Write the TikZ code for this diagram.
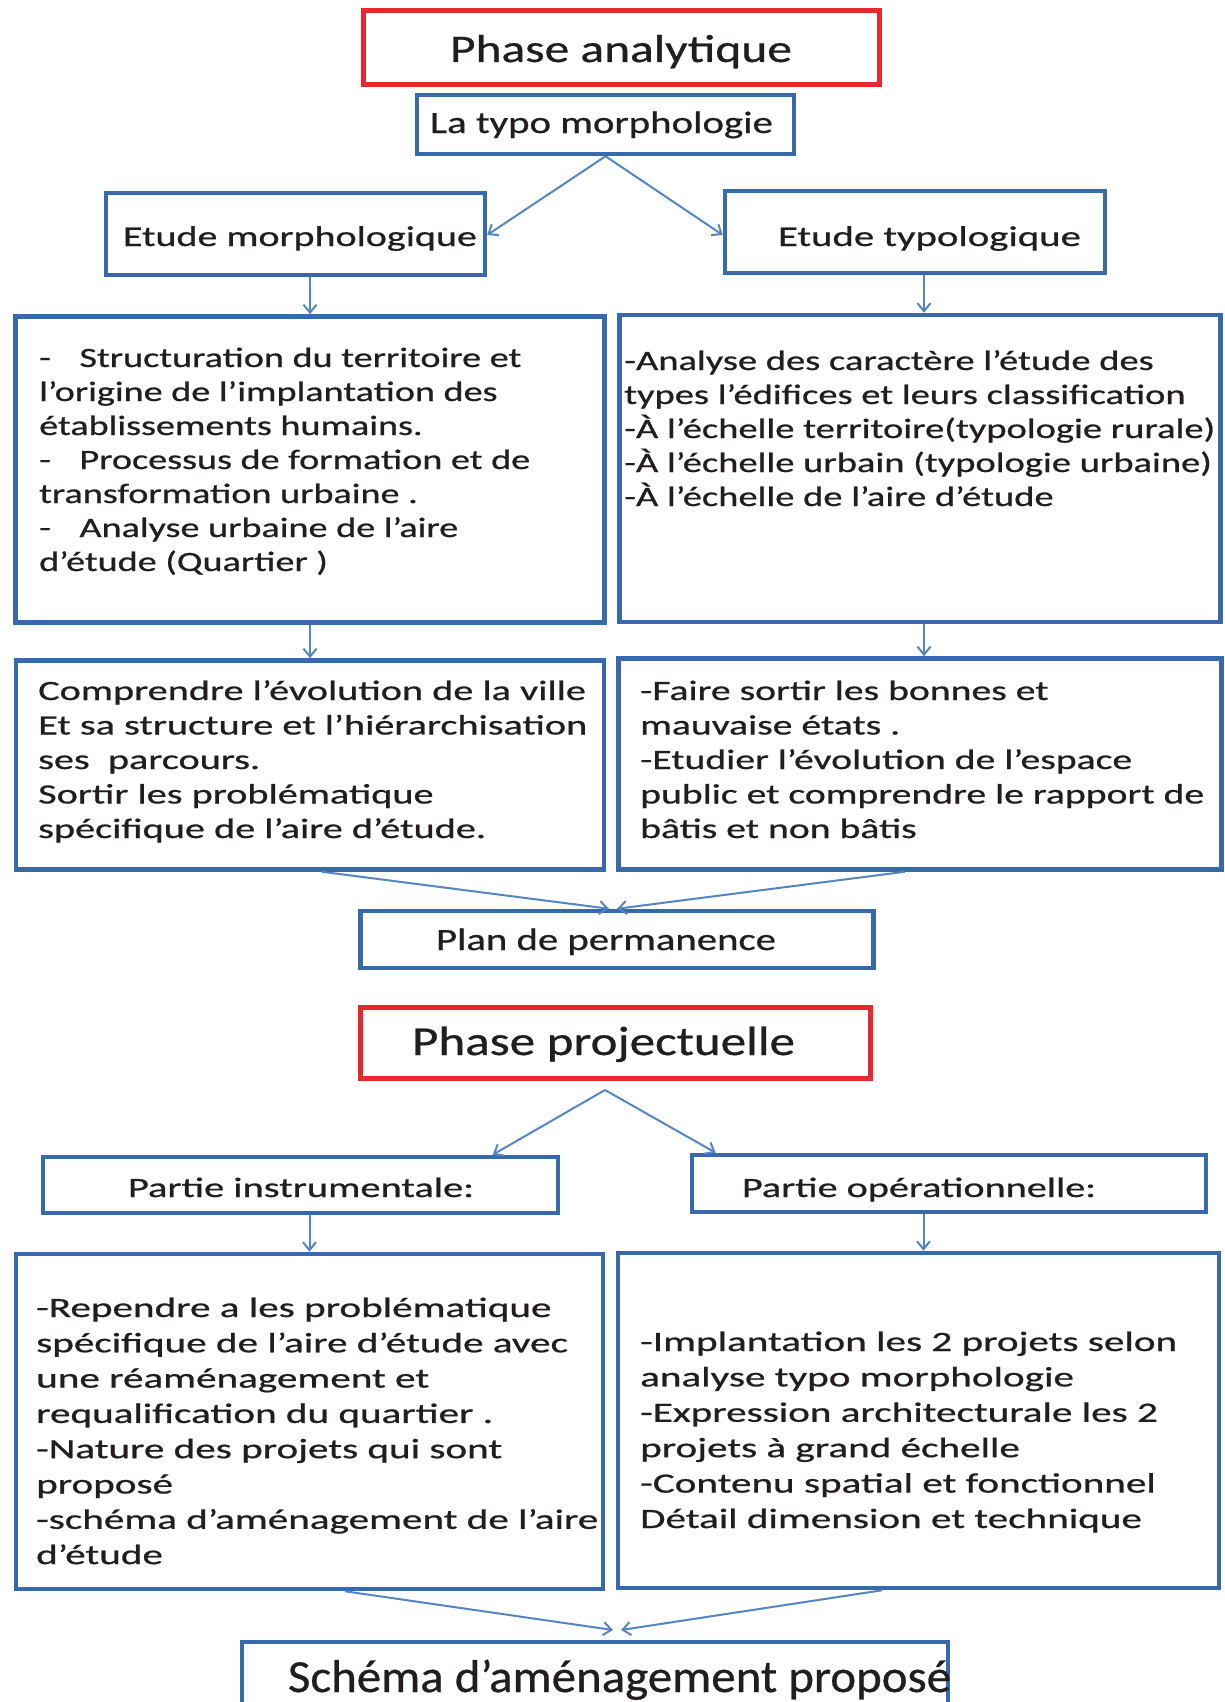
\documentclass[tikz,border=0pt]{standalone}
\usepackage{fontspec}
\setmainfont[FakeBold=0.6]{Carlito}
\usetikzlibrary{arrows.meta,calc}
\definecolor{boxblue}{RGB}{56,105,170}
\definecolor{arrblue}{RGB}{84,134,196}
\definecolor{boxred}{RGB}{232,40,44}
\definecolor{txt}{RGB}{34,30,30}
\newcommand\fitw[2]{\resizebox{#1pt}{\height}{#2}}
\newcommand\blk[3]{\resizebox{#1pt}{\height}{\fontsize{28}{#2}\selectfont\begin{tabular}[t]{@{}l@{}}#3\end{tabular}}}
\begin{document}
\begin{tikzpicture}[x=1pt,y=-1pt,
  bbox/.style={draw=boxblue, line width=4.5pt, inner sep=0pt},
  rbox/.style={draw=boxred, line width=5pt, inner sep=0pt},
  arr/.style={draw=arrblue, line width=2pt, -{Straight Barb[length=8pt,width=13pt,line width=2pt]}},
  lbl/.style={inner sep=0pt, anchor=base, text=txt},
  blkn/.style={inner sep=0pt, anchor=base west, text=txt}]
\path[use as bounding box] (0,0) rectangle (1224,1702);
\fill[white] (0,0) rectangle (1224,1702);
\clip (0,0) rectangle (1224,1702);

% boxes
\node[rbox, minimum width=516pt, minimum height=73pt] (pa) at (621,47.5) {};
\node[bbox, minimum width=377pt, minimum height=59pt] (typo) at (605.5,124.5) {};
\node[bbox, minimum width=379pt, minimum height=82pt] (morph) at (295.5,234) {};
\node[bbox, minimum width=380pt, minimum height=82pt] (typol) at (915,232) {};
\node[bbox, minimum width=589pt, minimum height=306pt] (L1) at (310,469.5) {};
\node[bbox, minimum width=601pt, minimum height=307pt] (R1) at (920,468.5) {};
\node[bbox, minimum width=588pt, minimum height=209pt] (L2) at (310,765) {};
\node[bbox, minimum width=603pt, minimum height=211pt] (R2) at (920,764) {};
\node[bbox, minimum width=513pt, minimum height=57pt] (plan) at (617,939.5) {};
\node[rbox, minimum width=510pt, minimum height=71pt] (pp) at (615.5,1042.5) {};
\node[bbox, minimum width=515pt, minimum height=56pt] (instr) at (300.5,1185) {};
\node[bbox, minimum width=514pt, minimum height=57pt] (oper) at (949,1183.5) {};
\node[bbox, minimum width=587pt, minimum height=335pt] (L3) at (309.5,1421.5) {};
\node[bbox, minimum width=601pt, minimum height=335pt] (R3) at (918.5,1420.5) {};
\node[bbox, minimum width=706pt, minimum height=90pt] (schema) at (595,1687) {};

% titles
\node[lbl] (tpa) at (621,62) {\fontsize{39}{47}\selectfont\fitw{342}{Phase analytique}};
\node[lbl] (ttypo) at (601.5,133) {\fontsize{31}{37}\selectfont\fitw{343}{La typo morphologie}};
\node[lbl] (tmorph) at (300,246) {\fontsize{28.5}{34}\selectfont\fitw{354}{Etude morphologique}};
\node[lbl] (ttypol) at (929.5,246) {\fontsize{28.5}{34}\selectfont\fitw{303}{Etude typologique}};
\node[lbl] (tplan) at (606,950) {\fontsize{31}{37}\selectfont\fitw{340}{Plan de permanence}};
\node[lbl] (tpp) at (603.5,1055) {\fontsize{41}{49}\selectfont\fitw{383}{Phase projectuelle}};
\node[lbl] (tinstr) at (301,1197) {\fontsize{28}{34}\selectfont\fitw{346}{Partie instrumentale:}};
\node[lbl] (toper) at (919,1197) {\fontsize{28}{34}\selectfont\fitw{354}{Partie opérationnelle:}};
\node[lbl] (tschema) at (619.5,1692) {\fontsize{46}{55}\selectfont\fitw{663}{Schéma d’aménagement proposé}};

% text blocks
\node[blkn] (t1) at (39,367) {\blk{491}{34}{-\hspace{0.75em}Structuration du territoire et\\ l’origine de l’implantation des\\ établissements humains.\\ -\hspace{0.75em}Processus de formation et de\\ transformation urbaine .\\ -\hspace{0.75em}Analyse urbaine de l’aire\\ d’étude (Quartier )}};
\node[blkn] (t2) at (624,370) {\blk{591}{34}{-Analyse des caractère l’étude des\\ types l’édifices et leurs classification\\ -À l’échelle territoire(typologie rurale)\\ -À l’échelle urbain (typologie urbaine)\\ -À l’échelle de l’aire d’étude}};
\node[blkn] (t3) at (38,700) {\blk{549}{34.5}{Comprendre l’évolution de la ville\\ Et sa structure et l’hiérarchisation\\ ses\ \ parcours.\\ Sortir les problématique\\ spécifique de l’aire d’étude.}};
\node[blkn] (t4) at (640,700) {\blk{564}{34.5}{-Faire sortir les bonnes et\\ mauvaise états .\\ -Etudier l’évolution de l’espace\\ public et comprendre le rapport de\\ bâtis et non bâtis}};
\node[blkn] (t5) at (36,1317) {\blk{562}{35.3}{-Rependre a les problématique\\ spécifique de l’aire d’étude avec\\ une réaménagement et\\ requalification du quartier .\\ -Nature des projets qui sont\\ proposé\\ -schéma d’aménagement de l’aire\\ d’étude}};
\node[blkn] (t6) at (640,1351) {\blk{537}{35.4}{-Implantation les 2 projets selon\\ analyse typo morphologie\\ -Expression architecturale les 2\\ projets à grand échelle\\ -Contenu spatial et fonctionnel\\ Détail dimension et technique}};

% connectors
\draw[arr] (typo.south) -- ([yshift=-1pt]morph.east);
\draw[arr] (typo.south) -- ([yshift=-3pt]typol.west);
\draw[arr] (L1.north |- morph.south) -- (L1.north);
\draw[arr] ([xshift=4pt]R1.north |- typol.south) -- ([xshift=4pt]R1.north);
\draw[arr] (L2.north |- L1.south) -- (L2.north);
\draw[arr] ([xshift=4pt]R2.north |- R1.south) -- ([xshift=4pt]R2.north);
\coordinate (pl) at ([xshift=-8pt]plan.north);
\coordinate (pr) at ([xshift=0pt]plan.north);
\draw[arr] ($(L2.south west)!0.52!(L2.south east)$) -- (pl);
\draw[arr] ($(R2.south west)!0.475!(R2.south east)$) -- (pr);
\coordinate (ppo) at (605,1090);
\draw[arr] (ppo) -- ($(instr.north west)!0.87!(instr.north east)$);
\draw[arr] (ppo) -- ($(oper.north west)!0.05!(oper.north east)$);
\draw[arr] (L3.north |- instr.south) -- (L3.north);
\draw[arr] ([xshift=5pt]R3.north |- oper.south) -- ([xshift=5pt]R3.north);
\coordinate (sl) at (613,1630);
\coordinate (sr) at (621,1630);
\draw[arr] ($(L3.south west)!0.56!(L3.south east)$) -- (sl);
\draw[arr] ($(R3.south west)!0.44!(R3.south east)$) -- (sr);
\end{tikzpicture}
\end{document}
